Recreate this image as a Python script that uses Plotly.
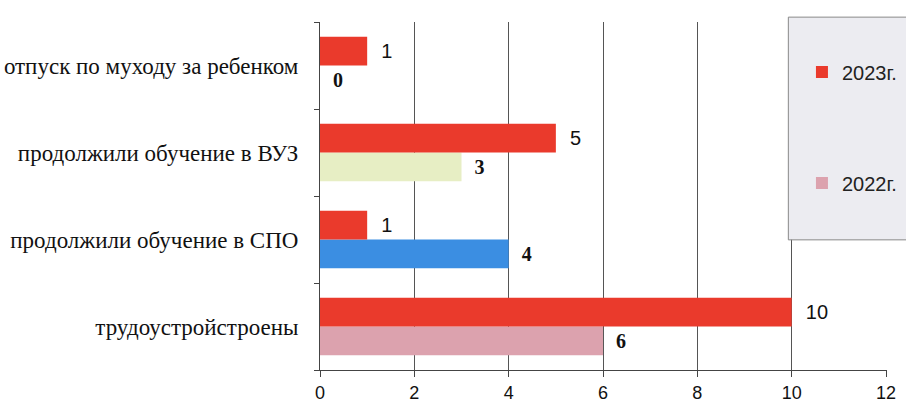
import plotly.graph_objects as go

categories = ["трудоустройстроены", "продолжили обучение в СПО",
              "продолжили обучение в ВУЗ", "отпуск по муходу за ребенком"]
values_2023 = [10, 1, 5, 1]
values_2022 = [6, 4, 3, 0]
colors_2022 = ["#dca2ae", "#3b8ee2", "#e7eec4", "#dca2ae"]
red = "#ea3a2c"
pad = "\u00a0\u00a0"

fig = go.Figure()
fig.add_trace(go.Bar(
    y=categories, x=values_2022, orientation="h", name="2022г.",
    legendgroup="b", legendrank=2, marker=dict(color=colors_2022, line=dict(width=0)),
    text=[pad + str(v) for v in values_2022], textposition="outside",
    textfont=dict(family="Liberation Serif", size=20, color="#111", weight="bold"),
    cliponaxis=False,
))
fig.add_trace(go.Bar(
    y=categories, x=values_2023, orientation="h", name="2023г.",
    legendgroup="a", legendrank=1, marker=dict(color=red, line=dict(width=0)),
    text=[pad + str(v) for v in values_2023], textposition="outside",
    textfont=dict(family="Liberation Sans", size=20, color="#111"),
    cliponaxis=False,
))

# legend box
fig.add_shape(type="rect", xref="paper", yref="paper",
              x0=0.826, x1=1.05, y0=0.374, y1=1.014,
              fillcolor="#ececf1", line=dict(color="#888", width=1), layer="above")

fig.update_layout(
    width=906, height=408,
    margin=dict(l=320, r=4, t=22, b=38),
    paper_bgcolor="white", plot_bgcolor="white",
    barmode="group", bargap=0.34, bargroupgap=0,
    font=dict(family="Liberation Sans", color="#111"),
    legend=dict(x=0.85, y=0.912, xanchor="left", yanchor="top",
                bgcolor="rgba(0,0,0,0)", traceorder="grouped",
                tracegroupgap=82, font=dict(family="Liberation Sans", size=20, color="#222")),
    xaxis=dict(range=[0, 12.02], dtick=2, showgrid=True, gridcolor="#555", gridwidth=1,
               zeroline=False, showline=True, linecolor="#444", linewidth=1,
               ticks="outside", ticklen=6, tickcolor="#444", automargin=False,
               tickfont=dict(family="Liberation Sans", size=18, color="#111")),
    yaxis=dict(showline=True, linecolor="#444", linewidth=1, ticks="outside",
               tickson="boundaries", ticklen=5, tickcolor="#444", showgrid=False,
               automargin=False, ticklabelstandoff=16,
               tickfont=dict(family="Liberation Serif", size=23, color="#111")),
)

fig.write_html("out.html", config={"responsive": False, "displayModeBar": False},
               post_script="document.body.style.margin='0';document.body.style.overflow='hidden';")
